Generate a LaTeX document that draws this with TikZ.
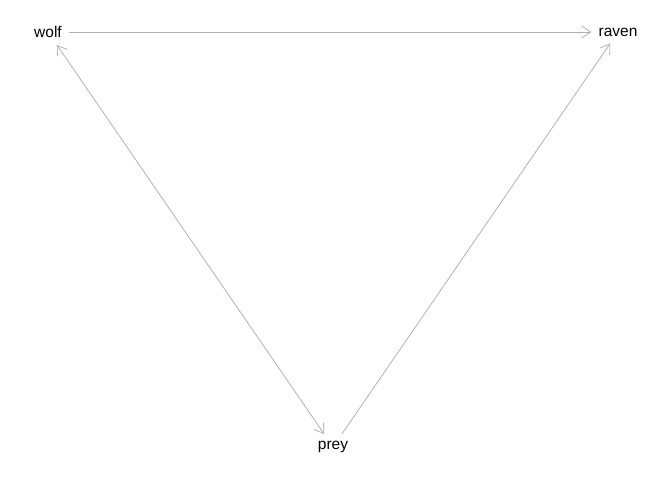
\documentclass[tikz,border=0pt]{standalone}
\usepackage{fontspec}
\setmainfont{Liberation Sans}
\usetikzlibrary{arrows.meta}
\tikzset{
  species/.style={inner sep=7pt, font=\fontsize{15.5}{18}\selectfont},
  link/.style={draw=black!30, line width=0.8pt, arrows={-Straight Barb[length=9pt, width=12pt]}}
}

\begin{document}
\begin{tikzpicture}[x=1pt, y=-1pt]
      \useasboundingbox (0, 0) rectangle (672, 480);

      \node[species] (wolf) at (48, 32) {wolf};
      \node[species] (raven) at (618, 32) {raven};
      \node[species] (prey) at (333, 447) {prey};

      \draw[link] (wolf) -- (raven);
      \draw[link, arrows={Straight Barb[length=9pt, width=12pt]-Straight Barb[length=9pt, width=12pt]}] (wolf) -- (prey);
      \draw[link] (prey) -- (raven);

    \end{tikzpicture}
\end{document}
